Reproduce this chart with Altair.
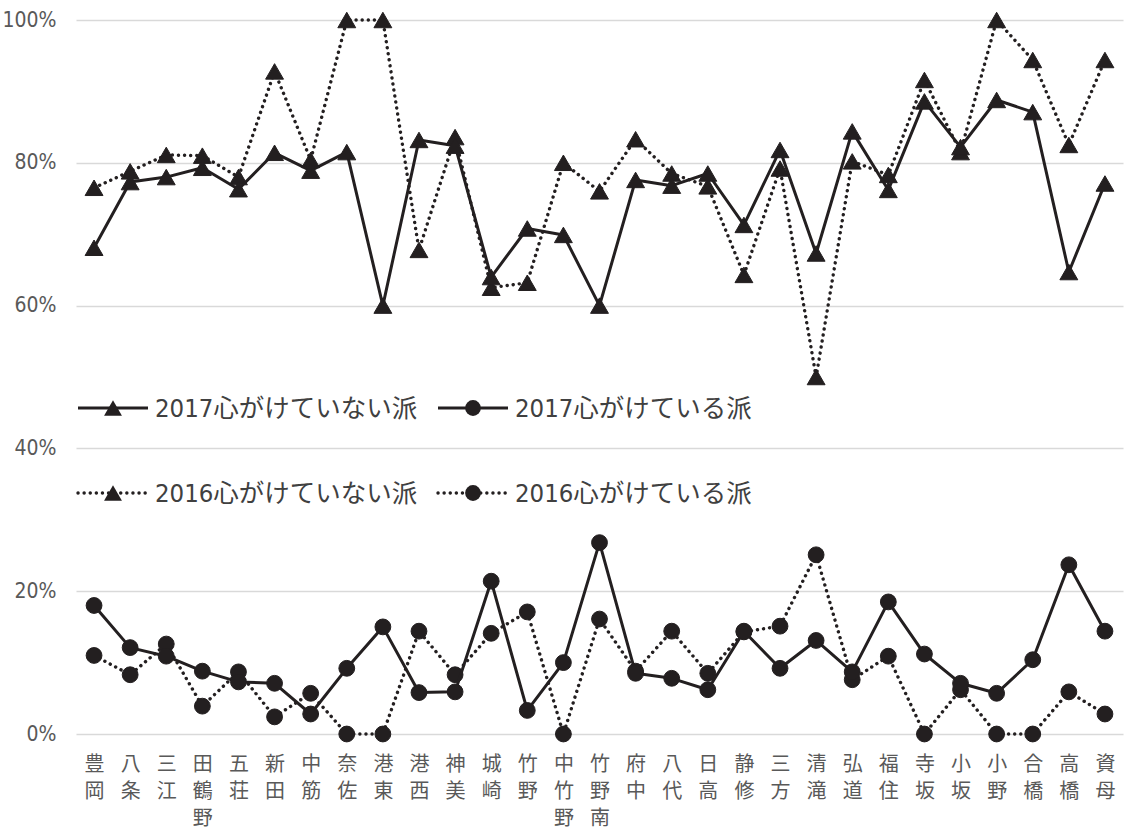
import altair as alt
import pandas as pd

districts = ["豊岡", "八条", "三江", "田鶴野", "五荘", "新田", "中筋", "奈佐", "港東", "港西",
             "神美", "城崎", "竹野", "中竹野", "竹野南", "府中", "八代", "日高", "静修", "三方",
             "清滝", "弘道", "福住", "寺坂", "小坂", "小野", "合橋", "高橋", "資母"]

not_2017 = [68.1, 77.3, 78.0, 79.3, 76.3, 81.4, 78.9, 81.5, 60.0, 83.2,
            82.4, 64.0, 70.8, 69.9, 60.0, 77.6, 76.8, 78.5, 71.3, 81.8,
            67.3, 84.4, 76.2, 88.6, 82.2, 88.8, 87.1, 64.7, 77.1]
yes_2017 = [18.0, 12.1, 10.9, 8.8, 7.3, 7.1, 2.8, 9.2, 15.0, 5.8,
            5.9, 21.4, 3.3, 10.0, 26.8, 8.5, 7.8, 6.2, 14.4, 9.2,
            13.1, 8.7, 18.5, 11.2, 7.1, 5.7, 10.4, 23.7, 14.4]
not_2016 = [76.5, 78.8, 81.1, 81.0, 78.0, 92.8, 80.4, 100.0, 100.0, 67.8,
            83.6, 62.5, 63.2, 80.0, 76.0, 83.3, 78.5, 76.7, 64.3, 79.2,
            50.0, 80.2, 78.3, 91.6, 81.5, 100.0, 94.4, 82.5, 94.4]
yes_2016 = [11.0, 8.3, 12.6, 3.9, 8.7, 2.4, 5.7, 0.0, 0.0, 14.4,
            8.3, 14.1, 17.1, 0.0, 16.1, 8.8, 14.4, 8.5, 14.3, 15.1,
            25.1, 7.6, 10.9, 0.0, 6.2, 0.0, 0.0, 5.9, 2.8]

series_names = ["2017心がけていない派", "2017心がけている派",
                "2016心がけていない派", "2016心がけている派"]
y_ticks = [0, 20, 40, 60, 80, 100]

INK = "#231F20"
AXIS_GRAY = "#595959"
LEGEND_GRAY = "#404040"
NARROW = "Liberation Sans Narrow, DejaVu Sans Condensed, Noto Sans CJK JP, sans-serif"
JP = "Noto Sans CJK JP, sans-serif"
DOT = dict(strokeDash=[0.1, 6], strokeCap="round")

x_axis = alt.Axis(title=None, ticks=False, domain=False, grid=False, labelAngle=0,
                  labelExpr="split(datum.label, '')", labelLineHeight=27,
                  labelFontSize=20, labelFont=JP, labelColor=AXIS_GRAY,
                  labelPadding=20, labelBaseline="top", labelOverlap=False)
y_axis = alt.Axis(title=None, values=y_ticks, labelExpr="datum.value + '%'",
                  grid=True, gridColor="#D9D9D9", gridWidth=1.3, ticks=False,
                  domain=False, labelPadding=20, labelFontSize=21, labelFont=NARROW,
                  labelColor=AXIS_GRAY, labelFlush=False)

x_enc = alt.X("地区:N", sort=districts, scale=alt.Scale(type="point", padding=0.5), axis=x_axis)
y_enc = alt.Y("値:Q", scale=alt.Scale(domain=[0, 100], nice=False, zero=True), axis=y_axis)


def series_layers(values, name, shape, dashed):
    df = pd.DataFrame({"地区": districts, "値": values, "系列": name})
    base = alt.Chart(df).encode(x=x_enc, y=y_enc)
    line_kw = dict(color=INK, strokeWidth=3, strokeJoin="round")
    if dashed:
        line_kw.update(DOT)
        line_kw["strokeWidth"] = 3.4
    line = base.mark_line(**line_kw)
    size = 320 if shape == "triangle-up" else 250
    pts = base.mark_point(shape=shape, filled=True, size=size, color=INK,
                          opacity=1, stroke=INK, strokeWidth=1)
    return [line, pts]


ONE = alt.Data(values=[{"k": 0}])


def legend_item(x0, y0, name, shape, dashed):
    rule_kw = dict(color=INK, strokeWidth=3)
    if dashed:
        rule_kw.update(DOT)
        rule_kw["strokeWidth"] = 3.4
    rule = alt.Chart(ONE).mark_rule(**rule_kw).encode(
        x=alt.value(x0), x2=alt.value(x0 + 70), y=alt.value(y0))
    size = 320 if shape == "triangle-up" else 250
    pt = alt.Chart(ONE).mark_point(shape=shape, filled=True, size=size, color=INK,
                                   opacity=1).encode(x=alt.value(x0 + 35), y=alt.value(y0))
    tx = alt.Chart(ONE).mark_text(text=name, align="left", baseline="middle",
                                  font=NARROW, fontSize=25.5, color=LEGEND_GRAY).encode(
        x=alt.value(x0 + 77), y=alt.value(y0 + 1))
    return [rule, pt, tx]


layers = []
layers += series_layers(not_2016, series_names[2], "triangle-up", True)
layers += series_layers(yes_2016, series_names[3], "circle", True)
layers += series_layers(not_2017, series_names[0], "triangle-up", False)
layers += series_layers(yes_2017, series_names[1], "circle", False)

layers += legend_item(2, 388, series_names[0], "triangle-up", False)
layers += legend_item(362, 388, series_names[1], "circle", False)
layers += legend_item(2, 473, series_names[2], "triangle-up", True)
layers += legend_item(362, 473, series_names[3], "circle", True)

chart = alt.layer(*layers).properties(
    width=1047, height=714,
    autosize=alt.AutoSizeParams(type="none"),
    padding={"left": 76, "top": 20, "right": 4, "bottom": 101},
    background="white",
).configure_view(stroke=None)

chart.save("out.html", embed_options={"renderer": "svg", "actions": False})
